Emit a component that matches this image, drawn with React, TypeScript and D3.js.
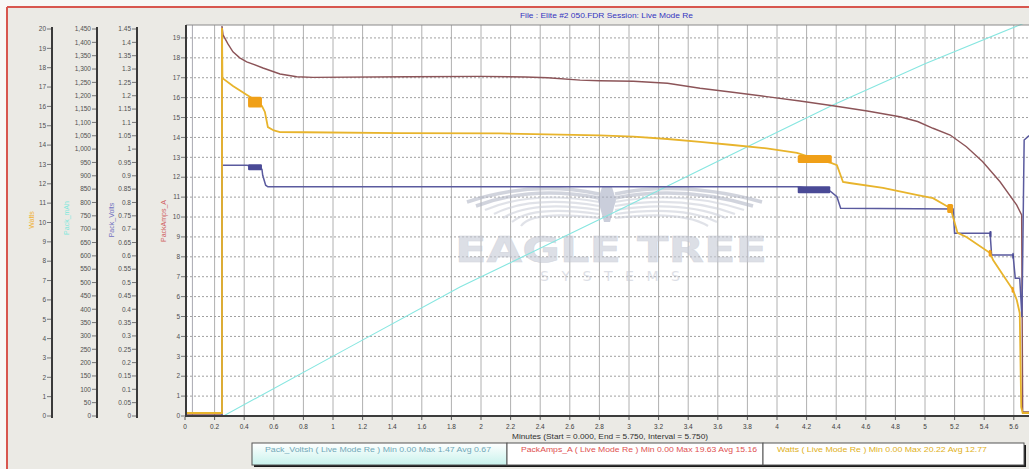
import React from "react";
import * as d3 from "d3";

// ---------- data ----------
const minuteTicks: number[] = d3.range(0, 29).map((i) => i / 5); // 0 .. 5.6
const markerMinutes: number[] = [0.05];

const wattsTicks: number[] = d3.range(0, 21); // 0..20
const mahTicks: number[] = d3.range(0, 30).map((i) => i * 50); // 0..1450
const voltTicks: number[] = d3.range(0, 30).map((i) => Math.round(i * 5) / 100); // 0..1.45
const ampTicks: number[] = d3.range(0, 20); // 0..19

// [minutes, value] on the PackAmps (right-most) axis
const packAmps: [number, number][] = [
  [0, 0.1], [0.25, 0.1], [0.25, 19.6], [0.257, 19.15], [0.29, 18.7], [0.324, 18.3], [0.37, 18.0],
  [0.417, 17.8], [0.527, 17.49], [0.642, 17.19], [0.755, 17.05], [0.865, 17.02], [1.5, 17.05],
  [2.0, 17.07], [2.3, 17.04], [2.45, 17.0], [2.67, 16.88], [2.8, 16.85], [3.03, 16.82], [3.26, 16.72],
  [3.48, 16.47], [3.7, 16.27], [3.93, 16.05], [4.155, 15.83], [4.378, 15.59], [4.61, 15.33],
  [4.83, 15.04], [4.95, 14.8], [5.054, 14.46], [5.17, 14.12], [5.28, 13.53], [5.39, 12.78],
  [5.507, 11.77], [5.62, 10.6], [5.653, 10.1], [5.66, 0.2], [5.75, 0.2],
];

const watts: [number, number][] = [
  [0, 0.15], [0.25, 0.15], [0.25, 19.5], [0.253, 16.98], [0.324, 16.58], [0.419, 16.13], [0.47, 15.9],
  [0.52, 15.58], [0.54, 15.28], [0.56, 14.52], [0.6, 14.35], [0.642, 14.27], [0.8, 14.26], [1.45, 14.22],
  [2.13, 14.2], [2.8, 14.1], [3.03, 14.04], [3.26, 13.92], [3.48, 13.78], [3.7, 13.62], [3.93, 13.45],
  [4.135, 13.22], [4.25, 12.95], [4.37, 12.71], [4.405, 12.61], [4.446, 11.76], [4.49, 11.71],
  [4.716, 11.46], [4.95, 11.1], [5.054, 10.95], [5.17, 10.45], [5.18, 10.25], [5.22, 9.2], [5.28, 9.0],
  [5.44, 8.19], [5.46, 7.84], [5.595, 6.33], [5.62, 5.83], [5.64, 5.18], [5.65, 0.45], [5.66, 0.15],
  [5.75, 0.15],
];

const packVolts: [number, number][] = [
  [0, 0], [0.25, 0], [0.25, 12.6], [0.42, 12.6], [0.52, 12.4], [0.525, 12.1], [0.545, 11.6],
  [0.56, 11.52], [4.14, 11.52], [4.36, 11.3], [4.405, 11.02], [4.43, 10.44], [5.19, 10.4], [5.2, 9.18],
  [5.44, 9.18], [5.45, 8.09], [5.595, 8.09], [5.61, 6.92], [5.64, 6.92], [5.655, 4.97], [5.67, 13.87],
  [5.7, 14.07], [5.75, 14.07],
];

// cumulative series on the 0..1.45 axis
const packUsed: [number, number][] = [
  [0, 0], [0.26, 0], [1.115, 0.259], [1.858, 0.483], [2.96, 0.779], [3.48, 0.922], [4.378, 1.165],
  [5.0, 1.32], [5.64, 1.465], [5.75, 1.49],
];

// noisy bursts: [m0, m1, lo, hi]
const wattsBursts: [number, number, number, number][] = [
  [0.426, 0.52, 15.5, 16.05], [4.14, 4.37, 12.71, 13.12], [5.15, 5.19, 10.2, 10.65],
  [5.43, 5.45, 8.0, 8.35], [5.585, 5.6, 6.2, 6.5],
];
const voltBursts: [number, number, number, number][] = [
  [0.426, 0.52, 12.35, 12.65], [4.14, 4.36, 11.2, 11.55], [5.435, 5.45, 9.0, 9.3], [5.59, 5.6, 7.9, 8.2],
];

const legendItems: string[] = [
  "Pack_Voltsh ( Live Mode Re )   Min 0.00   Max 1.47   Avg 0.67",
  "PackAmps_A ( Live Mode Re )   Min 0.00   Max 19.63   Avg 15.16",
  "Watts ( Live Mode Re )   Min 0.00   Max 20.22   Avg 12.77",
];

// ---------- component ----------
export default function App() {
  const W = 1029;
  const H = 469;
  const plotL = 186;
  const plotT = 25;
  const plotB = 416;
  const x = d3.scaleLinear().domain([0, 5.75]).range([185, 185 + 5.75 * 148]);
  const plotR = x(5.75);
  const yAmp = d3.scaleLinear().domain([0, 19.65]).range([plotB, plotT]);
  const yWatts = d3.scaleLinear().domain([0, 20]).range([416, 29]);
  const yMah = d3.scaleLinear().domain([0, 1450]).range([416, 29]);
  const yVolt = d3.scaleLinear().domain([0, 1.45]).range([416, 29]);

  const lineAmp = d3.line<[number, number]>().x((d) => x(d[0])).y((d) => yAmp(d[1]));
  const lineVolt = d3.line<[number, number]>().x((d) => x(d[0])).y((d) => yVolt(d[1]));

  const font = "'Liberation Sans', Arial, sans-serif";
  const tickFmt = d3.format(",");

  const axes = [
    { lineX: 52, scale: yWatts, ticks: wattsTicks, fmt: (v: number) => String(v) },
    { lineX: 97, scale: yMah, ticks: mahTicks, fmt: (v: number) => tickFmt(v) },
    { lineX: 137, scale: yVolt, ticks: voltTicks, fmt: (v: number) => String(v) },
    { lineX: plotL, scale: yAmp, ticks: ampTicks, fmt: (v: number) => String(v) },
  ];

  const titles = [
    { x: 32, y: 220, text: "Watts", color: "#f0b030" },
    { x: 67, y: 218, text: "Pack_mAh", color: "#80e8dc" },
    { x: 112, y: 220, text: "Pack_Volts", color: "#7070c0" },
    { x: 164, y: 221, text: "PackAmps_A", color: "#d06060" },
  ];

  const legendCells = [
    { x0: 252, x1: 507, tx: 265, len: 226, color: "#70a8b8", bg: "url(#cyanGrad)" },
    { x0: 507, x1: 763, tx: 521, len: 236, color: "#e05050", bg: "#ffffff" },
    { x0: 763, x1: 1024, tx: 777, len: 210, color: "#e0b020", bg: "#ffffff" },
  ];

  // watermark wings
  const wingCx = 607;
  const wingArcs = [0, 1, 2, 3, 4, 5, 6];

  return (
    <svg
      width={W}
      height={H}
      style={{ position: "fixed", left: 0, top: 0, display: "block" }}
      fontFamily={font}
    >
      <defs>
        <clipPath id="plotClip">
          <rect x={plotL} y={plotT - 1} width={plotR - plotL} height={plotB - plotT + 3} />
        </clipPath>
        <linearGradient id="cyanGrad" x1="0" y1="0" x2="0" y2="1">
          <stop offset="0" stopColor="#ffffff" />
          <stop offset="1" stopColor="#c8f2ec" />
        </linearGradient>
      </defs>

      {/* page + frame */}
      <rect x={0} y={0} width={W} height={H} fill="#f8f8f6" />
      <rect x={8} y={8} width={W - 8} height={H - 8} fill="#ebeae5" />
      <line x1={7} x2={W} y1={7} y2={7} stroke="#d8574f" strokeWidth={2} />
      <line x1={7} x2={7} y1={7} y2={H} stroke="#d8574f" strokeWidth={2} />

      {/* title */}
      <text x={520} y={17.5} fontSize={7} fill="#3434c0" textLength={173} lengthAdjust="spacingAndGlyphs">
        File : Elite #2  050.FDR   Session: Live Mode Re
      </text>

      {/* plot background */}
      <rect x={plotL} y={plotT} width={plotR - plotL} height={plotB - plotT} fill="#ffffff" />

      {/* vertical grid */}
      {minuteTicks.filter((m) => m > 0).map((m) => (
        <line key={"vg" + m} x1={x(m)} x2={x(m)} y1={plotT} y2={plotB} stroke="#b0b0b0" strokeWidth={1} />
      ))}
      {markerMinutes.map((m) => (
        <line key={"mk" + m} x1={x(m)} x2={x(m)} y1={plotT} y2={plotB} stroke="#a8a8b0" strokeWidth={1} />
      ))}
      {/* horizontal dotted grid */}
      {ampTicks.filter((v) => v > 0).map((v) => (
        <line
          key={"hg" + v}
          x1={plotL}
          x2={plotR}
          y1={yAmp(v)}
          y2={yAmp(v)}
          stroke="#a0a0a0"
          strokeWidth={1}
          strokeDasharray="2 2"
        />
      ))}

      {/* watermark */}
      <g opacity={0.6}>
        {wingArcs.map((i) => (
          <g key={"w" + i}>
            <path
              d={`M ${wingCx - 8} ${194 + i * 4} Q ${wingCx - 75} ${180 + i * 5} ${wingCx - 140 + i * 9} ${202 + i * 4}`}
              fill="none"
              stroke={i < 2 ? "#b4b8c8" : "#cdd0da"}
              strokeWidth={i < 2 ? 3.5 : 2.2}
            />
            <path
              d={`M ${wingCx + 8} ${194 + i * 4} Q ${wingCx + 75} ${180 + i * 5} ${wingCx + 155 - i * 9} ${202 + i * 4}`}
              fill="none"
              stroke={i < 2 ? "#b4b8c8" : "#cdd0da"}
              strokeWidth={i < 2 ? 3.5 : 2.2}
            />
          </g>
        ))}
        <path
          d={`M ${wingCx - 5} 187 L ${wingCx + 5} 187 L ${wingCx + 9} 200 L ${wingCx + 3} 222 L ${wingCx - 3} 222 L ${wingCx - 9} 200 Z`}
          fill="#a8aec4"
        />
        <text
          x={455}
          y={262}
          fontSize={36}
          fontWeight="bold"
          fontFamily="'DejaVu Sans', sans-serif"
          fill="#c6cad6"
          stroke="#b8bcc9"
          strokeWidth={0.5}
          textLength={312}
          lengthAdjust="spacingAndGlyphs"
        >
          EAGLE TREE
        </text>
        <text
          x={540}
          y={281}
          fontSize={14}
          fontFamily="'DejaVu Sans', sans-serif"
          fill="#c8cbd6"
          textLength={140}
          lengthAdjust="spacing"
        >
          SYSTEMS
        </text>
      </g>

      {/* series */}
      <g clipPath="url(#plotClip)">
        <path d={lineVolt(packUsed) || ""} fill="none" stroke="#86e6e0" strokeWidth={1.1} />
        <path d={lineAmp(packAmps) || ""} fill="none" stroke="#8c5458" strokeWidth={1.4} />
        <path d={lineAmp(packVolts) || ""} fill="none" stroke="#5a5a9e" strokeWidth={1.5} />
        {voltBursts.map((b, i) => (
          <rect
            key={"vb" + i}
            x={x(b[0])}
            y={yAmp(b[3])}
            width={x(b[1]) - x(b[0])}
            height={yAmp(b[2]) - yAmp(b[3])}
            fill="#4a4a96"
            rx={1}
          />
        ))}
        <path d={lineAmp(watts) || ""} fill="none" stroke="#e8b42c" strokeWidth={1.8} />
        {wattsBursts.map((b, i) => (
          <rect
            key={"wb" + i}
            x={x(b[0])}
            y={yAmp(b[3])}
            width={x(b[1]) - x(b[0])}
            height={yAmp(b[2]) - yAmp(b[3])}
            fill="#f0a018"
            rx={1.5}
          />
        ))}
      </g>

      {/* plot borders */}
      <line x1={plotL} x2={plotR} y1={plotT} y2={plotT} stroke="#8a8a8a" strokeWidth={1} />
      <line x1={plotL} x2={plotR} y1={plotB} y2={plotB} stroke="#3c3c3c" strokeWidth={2} />

      {/* left axes */}
      {axes.map((a, ai) => (
        <g key={"ax" + ai}>
          <line
            x1={a.lineX}
            x2={a.lineX}
            y1={ai === 3 ? plotT : 27}
            y2={ai === 3 ? plotB + 1 : 418}
            stroke="#3a3a3a"
            strokeWidth={2}
          />
          {a.ticks.map((t) => (
            <g key={"t" + t}>
              <line x1={a.lineX - 5} x2={a.lineX - 1} y1={a.scale(t)} y2={a.scale(t)} stroke="#777" strokeWidth={1} />
              <text
                x={a.lineX - 6}
                y={a.scale(t)}
                dy="0.35em"
                textAnchor="end"
                fontSize={6.5}
                fill="#505050"
              >
                {a.fmt(t)}
              </text>
            </g>
          ))}
        </g>
      ))}

      {/* axis titles */}
      {titles.map((t) => (
        <text
          key={t.text}
          transform={`translate(${t.x},${t.y}) rotate(-90)`}
          textAnchor="middle"
          dy="0.35em"
          fontSize={7}
          fill={t.color}
        >
          {t.text}
        </text>
      ))}

      {/* x axis */}
      {minuteTicks.map((m) => (
        <g key={"xt" + m}>
          <line x1={x(m)} x2={x(m)} y1={plotB + 1} y2={plotB + 4} stroke="#555" strokeWidth={1} />
          <text x={x(m)} y={428.5} textAnchor="middle" fontSize={6.5} fill="#404040">
            {String(Math.round(m * 10) / 10)}
          </text>
        </g>
      ))}
      <text x={512} y={439} fontSize={6.5} fill="#303030" textLength={196} lengthAdjust="spacingAndGlyphs">
        Minutes (Start = 0.000,  End = 5.750,  Interval = 5.750)
      </text>

      {/* legend */}
      <rect x={254} y={445} width={1026 - 254} height={22} fill="#1a1a1a" />
      {legendCells.map((c, i) => (
        <g key={"lg" + i}>
          <rect x={c.x0} y={443} width={c.x1 - c.x0} height={22} fill={c.bg} stroke="#555" strokeWidth={1} />
          <text
            x={c.tx}
            y={452}
            fontSize={6.5}
            fill={c.color}
            textLength={c.len}
            lengthAdjust="spacingAndGlyphs"
          >
            {legendItems[i]}
          </text>
        </g>
      ))}
    </svg>
  );
}
